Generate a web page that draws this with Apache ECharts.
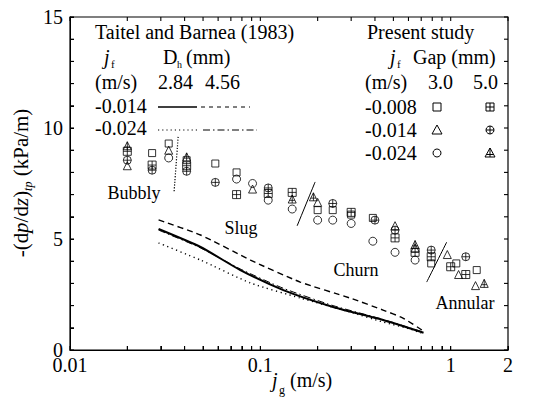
<!DOCTYPE html>
<html>
<head>
<meta charset="utf-8">
<script src="https://cdn.jsdelivr.net/npm/echarts@6/dist/echarts.min.js"></script>
<style>
  html, body { margin: 0; padding: 0; background: #fff; }
  #chart { width: 548px; height: 398px; }
</style>
</head>
<body>
<div id="chart"></div>
<script>
// axis ticks and labels
const xTickValues = [0.01, 0.02, 0.03, 0.04, 0.05, 0.06, 0.07, 0.08, 0.09,
  0.1, 0.2, 0.3, 0.4, 0.5, 0.6, 0.7, 0.8, 0.9, 1, 2]
const xLabelValues = [0.01, 0.1, 1, 2]
const yTickValues = [0, 1, 2, 3, 4, 5, 6, 7, 8, 9, 10, 11, 12, 13, 14, 15]

// Taitel and Barnea (1983) curves
const tb284n014 = [[0.0292, 5.45], [0.0485, 4.64], [0.0785, 3.6], [0.132, 2.7], [0.241, 1.94], [0.441, 1.35], [0.72, 0.78]]
const tb456n014 = [[0.0292, 5.86], [0.0485, 5.18], [0.0887, 4.05], [0.162, 3.06], [0.296, 2.34], [0.441, 1.8], [0.561, 1.44], [0.72, 0.85]]
const tb284n024 = [[0.0292, 4.82], [0.0485, 4.05], [0.0887, 3.02], [0.162, 2.34], [0.296, 1.71], [0.441, 1.26], [0.61, 0.95], [0.70, 0.76]]
const tb456n024 = [[0.0292, 5.4], [0.0485, 4.6], [0.0785, 3.65], [0.132, 2.78], [0.241, 2.0], [0.441, 1.38], [0.72, 0.8]]

// present study
const gap3n008 = [[0.027, 8.87], [0.033, 9.3], [0.041, 8.55], [0.058, 8.4], [0.075, 8.0], [0.2, 6.3], [0.24, 6.3], [0.3, 6.1], [0.39, 5.95], [0.79, 3.9], [1.07, 3.9], [1.37, 3.6]]
const gap5n008 = [[0.02, 8.95], [0.027, 8.33], [0.041, 8.3], [0.075, 7.0], [0.11, 7.05], [0.147, 7.1], [0.3, 6.2], [0.51, 5.05], [0.65, 4.4], [0.79, 4.2], [1.0, 3.75], [1.2, 3.4]]
const gap3n014 = [[0.02, 8.3], [0.033, 9.0], [0.091, 7.25], [0.2, 6.65], [0.51, 5.6], [0.65, 4.6], [0.96, 4.3], [1.1, 3.4], [1.35, 2.9]]
const gap5n014 = [[0.02, 8.55], [0.027, 8.1], [0.041, 8.05], [0.058, 7.55], [0.11, 7.3], [0.24, 6.6], [0.4, 5.85], [0.51, 5.4], [0.79, 4.5], [1.2, 4.2]]
const gap3n024 = [[0.033, 8.65], [0.075, 7.7], [0.091, 7.5], [0.11, 6.75], [0.147, 6.35], [0.2, 5.85], [0.24, 5.85], [0.3, 5.7], [0.39, 4.9], [0.51, 4.4], [0.65, 4.05]]
const gap5n024 = [[0.02, 9.2], [0.041, 8.7], [0.147, 6.8], [0.19, 6.9], [0.65, 4.75], [1.5, 3.0]]

// flow regime transitions
const bubblySlug = [[0.0370, 9.6], [0.0352, 7.1]]
const slugChurn = [[0.194, 7.57], [0.156, 5.59]]
const churnAnnular = [[0.953, 4.86], [0.748, 3.06]]

const FONT = '"Liberation Serif", "Times New Roman", serif'
const BLACK = '#000'
const TICK = 4
const GRID = { left: 70, right: 40, top: 17, bottom: 48 }
const W = 548, H = 398

const SQ_PLUS = 'path://M0,0H10V10H0Z M5,0V10 M0,5H10'
const CIRC_PLUS = 'path://M10,5A5,5,0,1,1,0,5A5,5,0,1,1,10,5Z M5,0V10 M0,5H10'
const TRI_PLUS = 'path://M5,0L10,10H0Z M5,0V10 M1.7,6.6H8.3'

function lineSeries(data, type, width) {
  return {
    type: 'line', data: data, symbol: 'none', smooth: 0.2,
    lineStyle: { color: BLACK, width: width, type: type },
    silent: true, z: 3
  }
}
function scatterSeries(data, symbol, size) {
  return {
    type: 'scatter', data: data, symbol: symbol, symbolSize: size || 7,
    itemStyle: { color: 'rgba(0,0,0,0)', borderColor: BLACK, borderWidth: 1 },
    silent: true, z: 4
  }
}

function txt(x, y, text, opts) {
  return {
    type: 'text', x: x, y: y, silent: true,
    style: Object.assign({ text: text, fill: BLACK, font: '20px ' + FONT, verticalAlign: 'middle' }, opts || {})
  }
}
function italic(x, y, text, size) {
  return txt(x, y, text, { font: 'italic ' + (size || 20) + 'px ' + FONT })
}
function hline(x1, x2, y, dash, w) {
  return {
    type: 'line', silent: true,
    shape: { x1: x1, y1: y, x2: x2, y2: y },
    style: { stroke: BLACK, lineWidth: w || 1.2, lineDash: dash || null }
  }
}
function seg(x1, y1, x2, y2, w) {
  return { type: 'line', silent: true, shape: { x1: x1, y1: y1, x2: x2, y2: y2 }, style: { stroke: BLACK, lineWidth: w || 1 } }
}
function markRect(cx, cy, plus) {
  const s = 4
  const els = [{ type: 'rect', silent: true, shape: { x: cx - s, y: cy - s, width: 2 * s, height: 2 * s }, style: { fill: 'none', stroke: BLACK, lineWidth: 1 } }]
  if (plus) els.push(seg(cx, cy - s, cx, cy + s), seg(cx - s, cy, cx + s, cy))
  return els
}
function markCircle(cx, cy, plus) {
  const r = 4
  const els = [{ type: 'circle', silent: true, shape: { cx: cx, cy: cy, r: r }, style: { fill: 'none', stroke: BLACK, lineWidth: 1 } }]
  if (plus) els.push(seg(cx, cy - r, cx, cy + r), seg(cx - r, cy, cx + r, cy))
  return els
}
function markTri(cx, cy, plus) {
  const s = 5
  const els = [{ type: 'polygon', silent: true, shape: { points: [[cx, cy - s], [cx + s, cy + s - 1], [cx - s, cy + s - 1]] }, style: { fill: 'none', stroke: BLACK, lineWidth: 1 } }]
  if (plus) els.push(seg(cx, cy - s, cx, cy + s - 1), seg(cx - 3.5, cy + 1.5, cx + 3.5, cy + 1.5))
  return els
}

const graphics = [
  // left legend: Taitel and Barnea
  txt(95, 32, 'Taitel and Barnea (1983)'),
  italic(104, 57, 'j'),
  txt(111, 64, 'f', { font: '11px ' + FONT }),
  txt(163, 57, 'D'),
  txt(177, 64, 'h', { font: '10px ' + FONT }),
  txt(186, 57, '(mm)'),
  txt(95, 82, '(m/s)'),
  txt(158, 82, '2.84'),
  txt(205, 82, '4.56'),
  txt(95, 106, '-0.014'),
  hline(158, 197, 107, null, 1.3),
  hline(201, 250, 107, [4, 4], 1),
  txt(95, 128, '-0.024'),
  hline(158, 197, 130, [1.2, 3], 1.2),
  hline(203, 257, 130, [7, 3, 1.5, 3], 1),
  // right legend: present study
  txt(367, 32, 'Present study'),
  italic(390, 57, 'j'),
  txt(397, 64, 'f', { font: '11px ' + FONT }),
  txt(413, 57, 'Gap (mm)'),
  txt(365, 82, '(m/s)'),
  txt(428, 82, '3.0'),
  txt(473, 82, '5.0'),
  txt(365, 107, '-0.008'),
  txt(365, 130, '-0.014'),
  txt(365, 153, '-0.024'),
  ...markRect(437, 107, false),
  ...markRect(490, 107, true),
  ...markTri(437, 130, false),
  ...markCircle(490, 130, true),
  ...markCircle(437, 153, false),
  ...markTri(490, 153, true),
  // flow regimes
  txt(134, 193, 'Bubbly', { font: '18px ' + FONT, align: 'center' }),
  txt(241, 228, 'Slug', { font: '18px ' + FONT, align: 'center' }),
  txt(356, 270, 'Churn', { font: '18px ' + FONT, align: 'center' }),
  txt(465, 303, 'Annular', { font: '18px ' + FONT, align: 'center' }),
  // x axis name
  italic(272, 380, 'j', 20),
  txt(279, 390, 'g', { font: '12px ' + FONT }),
  txt(290, 380, '(m/s)', { font: '20px ' + FONT }),
  // y axis name (rotated)
  {
    type: 'text', x: 21, y: 183, rotation: Math.PI / 2, silent: true,
    style: {
      text: '-(d{i|p}/d{i|z}){s|tp} (kPa/m)',
      fill: BLACK, font: '21px ' + FONT,
      align: 'center', verticalAlign: 'middle',
      rich: {
        i: { fontStyle: 'italic', fontSize: 21, fontFamily: FONT },
        s: { fontStyle: 'italic', fontSize: 12, fontFamily: FONT, padding: [13, 0, 0, 0] }
      }
    }
  }
]

// svg renderer this time
const chart = echarts.init(document.getElementById('chart'), null, { renderer: 'svg' })
chart.setOption({
  animation: false,
  grid: GRID,
  xAxis: {
    type: 'log', logBase: 10, min: 0.01, max: 2, position: 'bottom',
    axisLine: { show: true, onZero: false, lineStyle: { color: BLACK, width: 1 } },
    axisTick: { show: true, inside: true, length: TICK, customValues: xTickValues, lineStyle: { color: BLACK } },
    axisLabel: { show: true, customValues: xLabelValues, color: BLACK, fontFamily: FONT, fontSize: 20, margin: 5 },
    splitLine: { show: false }
  },
  yAxis: {
    type: 'value', min: 0, max: 15, interval: 5,
    axisLine: { show: true, onZero: false, lineStyle: { color: BLACK, width: 1 } },
    axisTick: { show: true, inside: true, length: TICK, lineStyle: { color: BLACK } },
    minorTick: { show: true, splitNumber: 5, length: TICK, lineStyle: { color: BLACK } },
    axisLabel: { color: BLACK, fontFamily: FONT, fontSize: 20, margin: 7 },
    splitLine: { show: false }
  },
  series: [
    lineSeries(tb284n014, 'solid', 2),
    lineSeries(tb456n014, [6, 4], 1.4),
    lineSeries(tb284n024, [1.2, 3.5], 1.4),
    lineSeries(tb456n024, [7, 3, 1.5, 3], 1),
    lineSeries(bubblySlug, [1.2, 1.6], 1.2),
    lineSeries(slugChurn, 'solid', 1),
    lineSeries(churnAnnular, 'solid', 1),
    scatterSeries(gap3n008, 'rect', 7),
    scatterSeries(gap5n008, SQ_PLUS, 8),
    scatterSeries(gap3n014, 'triangle', 8),
    scatterSeries(gap5n014, CIRC_PLUS, 8),
    scatterSeries(gap3n024, 'circle', 8),
    scatterSeries(gap5n024, TRI_PLUS, 8)
  ]
})

// frame box and top/right ticks; tick positions come from the axis scales
const x0 = GRID.left, x1 = W - GRID.right, y0 = GRID.top, y1 = H - GRID.bottom
function pxX(v) {
  let p = null
  try { p = chart.convertToPixel({ xAxisIndex: 0 }, v) } catch (e) {}
  if (typeof p !== 'number' || !isFinite(p)) {
    p = x0 + (Math.log10(v) + 2) / (Math.log10(2) + 2) * (x1 - x0)
  }
  return p
}
function pxY(v) {
  let p = null
  try { p = chart.convertToPixel({ yAxisIndex: 0 }, v) } catch (e) {}
  if (typeof p !== 'number' || !isFinite(p)) {
    p = y1 - v / 15 * (y1 - y0)
  }
  return p
}
const frame = [
  { type: 'rect', silent: true, z: 10, shape: { x: x0, y: y0, width: x1 - x0, height: y1 - y0 },
    style: { fill: 'none', stroke: BLACK, lineWidth: 1.2 } }
]
xTickValues.forEach(v => {
  const x = pxX(v)
  frame.push(seg(x, y1, x, y1 - TICK, 1.1), seg(x, y0, x, y0 + TICK, 1.1))
})
yTickValues.forEach(v => {
  const y = pxY(v)
  frame.push(seg(x0, y, x0 + TICK, y, 1.1), seg(x1, y, x1 - TICK, y, 1.1))
})

chart.setOption({ graphic: { elements: graphics.concat(frame) } })
</script>
</body>
</html>
